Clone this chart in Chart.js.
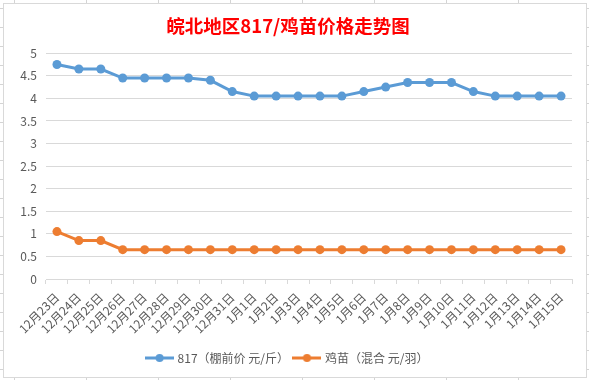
<!DOCTYPE html>
<html>
<head>
<meta charset="utf-8">
<script src="https://cdn.jsdelivr.net/npm/chart.js@4"></script>
<style>
  html, body { margin: 0; padding: 0; }
  body {
    width: 589px; height: 380px; overflow: hidden; position: relative;
    background-color: #ffffff;
    background-image:
      repeating-linear-gradient(to right, transparent 0, transparent 14px, #d4d4d4 14px, #d4d4d4 15px, transparent 15px, transparent 72px),
      repeating-linear-gradient(to bottom, transparent 0, transparent 8px, #d4d4d4 8px, #d4d4d4 9px, transparent 9px, transparent 19px);
    background-size: 72px 380px, 589px 19px;
    background-position: 0 0, 0 0;
  }
  #box {
    position: absolute; left: 3px; top: 3px; width: 582px; height: 373px;
    border: 1px solid #d9d9d9; background: #ffffff;
  }
  #c { display: block; }
</style>
</head>
<body>
<div id="box"><canvas id="c" width="582" height="373"></canvas></div>
<script>
const categories = [
  '12月23日','12月24日','12月25日','12月26日','12月27日','12月28日','12月29日','12月30日','12月31日',
  '1月1日','1月2日','1月3日','1月4日','1月5日','1月6日','1月7日','1月8日','1月9日','1月10日',
  '1月11日','1月12日','1月13日','1月14日','1月15日'
];
const broilerPrice = [4.75, 4.65, 4.65, 4.45, 4.45, 4.45, 4.45, 4.4, 4.15, 4.05, 4.05, 4.05, 4.05, 4.05, 4.15, 4.25, 4.35, 4.35, 4.35, 4.15, 4.05, 4.05, 4.05, 4.05];
const chickPrice = [1.05, 0.85, 0.85, 0.65, 0.65, 0.65, 0.65, 0.65, 0.65, 0.65, 0.65, 0.65, 0.65, 0.65, 0.65, 0.65, 0.65, 0.65, 0.65, 0.65, 0.65, 0.65, 0.65, 0.65];
const seriesNames = ['817（棚前价 元/斤）', '鸡苗（混合 元/羽）'];
const yMin = 0, yMax = 5, yStep = 0.5;

const BLUE = '#5B9BD5', ORANGE = '#ED7D31';
const FONT = '"Noto Sans CJK SC", "Noto Sans", sans-serif';

function legendIcon(color) {
  const cv = document.createElement('canvas');
  cv.width = 29; cv.height = 10;
  const g = cv.getContext('2d');
  g.strokeStyle = color; g.lineWidth = 3;
  g.beginPath(); g.moveTo(0, 5); g.lineTo(29, 5); g.stroke();
  g.fillStyle = color;
  g.beginPath(); g.arc(14.5, 5, 4, 0, Math.PI * 2); g.fill();
  return cv;
}
const icons = [legendIcon(BLUE), legendIcon(ORANGE)];

new Chart(document.getElementById('c'), {
  type: 'line',
  data: {
    labels: categories,
    datasets: [
      { label: seriesNames[0], data: broilerPrice, borderColor: BLUE, backgroundColor: BLUE,
        borderWidth: 3, pointRadius: 4.5, pointHoverRadius: 4.5, pointBackgroundColor: BLUE, pointBorderWidth: 0, tension: 0 },
      { label: seriesNames[1], data: chickPrice, borderColor: ORANGE, backgroundColor: ORANGE,
        borderWidth: 3, pointRadius: 4.5, pointHoverRadius: 4.5, pointBackgroundColor: ORANGE, pointBorderWidth: 0, tension: 0 }
    ]
  },
  options: {
    responsive: false,
    animation: false,
    layout: { padding: { top: 0, right: 14, bottom: 3, left: 0 } },
    plugins: {
      title: {
        display: true,
        text: '皖北地区817/鸡苗价格走势图',
        color: '#FF0000',
        font: { family: FONT, size: 18.5, weight: 'bold' },
        padding: { top: 11, bottom: 16 }
      },
      legend: {
        position: 'bottom',
        labels: {
          color: '#595959',
          font: { family: FONT, size: 12 },
          usePointStyle: true,
          pointStyleWidth: 24,
          boxHeight: 10,
          padding: 6,
          generateLabels(chart) {
            const items = Chart.defaults.plugins.legend.labels.generateLabels(chart);
            items.forEach((it, i) => { it.pointStyle = icons[i]; });
            return items;
          }
        }
      },
      tooltip: { enabled: false }
    },
    scales: {
      x: {
        offset: true,
        afterFit(scale) { scale.height = scale.height + 4; },
        grid: { display: true, offset: true, drawOnChartArea: false, drawTicks: true, tickLength: 5, color: '#d9d9d9' },
        border: { display: true, color: '#d9d9d9', width: 1 },
        ticks: { color: '#595959', font: { family: FONT, size: 12 }, minRotation: 45, maxRotation: 45, autoSkip: false, padding: 6 }
      },
      y: {
        min: yMin, max: yMax,
        afterFit(scale) { scale.width = 42; },
        grid: { color: '#d9d9d9', drawTicks: false },
        border: { display: false },
        ticks: { stepSize: yStep, color: '#595959', font: { family: FONT, size: 12 }, padding: 9,
          callback: (v) => String(Math.round(v * 10) / 10) }
      }
    }
  }
});
</script>
</body>
</html>
